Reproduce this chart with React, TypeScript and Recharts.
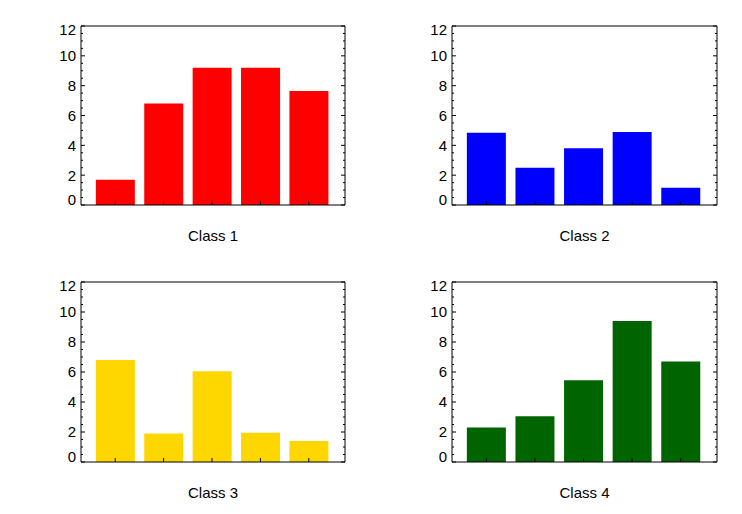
import React from 'react';
import { BarChart, Bar, XAxis, YAxis } from 'recharts';

const categories = ['1', '2', '3', '4', '5'];
const class1Values = [1.7, 6.8, 9.2, 9.2, 7.65];
const class2Values = [4.85, 2.5, 3.8, 4.9, 1.15];
const class3Values = [6.8, 1.9, 6.05, 1.95, 1.4];
const class4Values = [2.3, 3.05, 5.45, 9.4, 6.7];
const panelTitles = ['Class 1', 'Class 2', 'Class 3', 'Class 4'];
const panelColors = ['#ff0000', '#0000ff', '#ffd700', '#006400'];
const majorTicks = [0, 2, 4, 6, 8, 10, 12];
const allTicks = [0, 0.5, 1, 1.5, 2, 2.5, 3, 3.5, 4, 4.5, 5, 5.5, 6, 6.5, 7, 7.5, 8, 8.5, 9, 9.5, 10, 10.5, 11, 11.5, 12];

const FONT = '"Liberation Sans", Arial, Helvetica, sans-serif';

function LeftTick(props: any) {
  const { x, y, payload } = props;
  const v = payload.value;
  const major = majorTicks.includes(v);
  const len = major ? 4 : 2;
  let dy = 0;
  if (v === 12) dy = 4;
  if (v === 0) dy = -5;
  return (
    <g>
      <line x1={x} y1={y} x2={x + len} y2={y} stroke="#000" strokeWidth={1} />
      {major && (
        <text x={x - 5} y={y + dy} dy="0.36em" textAnchor="end" fontSize={15} fontFamily={FONT} fill="#000">
          {v}
        </text>
      )}
    </g>
  );
}

function RightTick(props: any) {
  const { x, y, payload } = props;
  const v = payload.value;
  const major = majorTicks.includes(v);
  const len = major ? 4 : 2;
  return <line x1={x} y1={y} x2={x - len} y2={y} stroke="#000" strokeWidth={1} />;
}

function EmptyTick() {
  return <g />;
}

type PanelProps = {
  values: number[];
  color: string;
  title: string;
  left: number;
  top: number;
  margin: { top: number; right: number; bottom: number; left: number };
};

function Panel({ values, color, title, left, top, margin }: PanelProps) {
  const data = categories.map((c, i) => ({ name: c, value: values[i] }));
  return (
    <div style={{ position: 'absolute', left, top }}>
      <BarChart width={371} height={257} data={data} margin={margin} barCategoryGap="10%">
        <XAxis
          dataKey="name"
          mirror
          height={1}
          tickSize={4}
          tick={EmptyTick}
          tickLine={{ stroke: '#000' }}
          axisLine={{ stroke: '#000' }}
          padding={{ left: 10, right: 12 }}
          label={{ value: title, position: 'bottom', offset: 25, fontSize: 15, fontFamily: FONT, fill: '#000' }}
        />
        <XAxis
          xAxisId="top"
          dataKey="name"
          orientation="top"
          height={1}
          tick={false}
          tickLine={false}
          axisLine={{ stroke: '#000' }}
        />
        <YAxis
          width={30}
          domain={[0, 12]}
          ticks={allTicks}
          interval={0}
          allowDataOverflow
          tickSize={0}
          tickMargin={0}
          tickLine={false}
          tick={LeftTick}
          axisLine={{ stroke: '#000' }}
        />
        <YAxis
          yAxisId="right"
          orientation="right"
          width={1}
          domain={[0, 12]}
          ticks={allTicks}
          interval={0}
          allowDataOverflow
          tickSize={0}
          tickMargin={0}
          tickLine={false}
          tick={RightTick}
          axisLine={{ stroke: '#000' }}
        />
        <Bar dataKey="value" fill={color} isAnimationActive={false} />
      </BarChart>
    </div>
  );
}

export default function App() {
  const allValues = [class1Values, class2Values, class3Values, class4Values];
  const layouts = [
    { left: 0, top: 0, margin: { top: 25, right: 25, bottom: 52, left: 51 } },
    { left: 371, top: 0, margin: { top: 25, right: 24, bottom: 52, left: 51 } },
    { left: 0, top: 257, margin: { top: 24, right: 25, bottom: 52, left: 51 } },
    { left: 371, top: 257, margin: { top: 24, right: 24, bottom: 52, left: 51 } },
  ];
  return (
    <div style={{ position: 'absolute', left: 0, top: 0, width: 742, height: 514, background: '#fff' }}>
      {layouts.map((l, i) => (
        <Panel
          key={i}
          values={allValues[i]}
          color={panelColors[i]}
          title={panelTitles[i]}
          left={l.left}
          top={l.top}
          margin={l.margin}
        />
      ))}
    </div>
  );
}
